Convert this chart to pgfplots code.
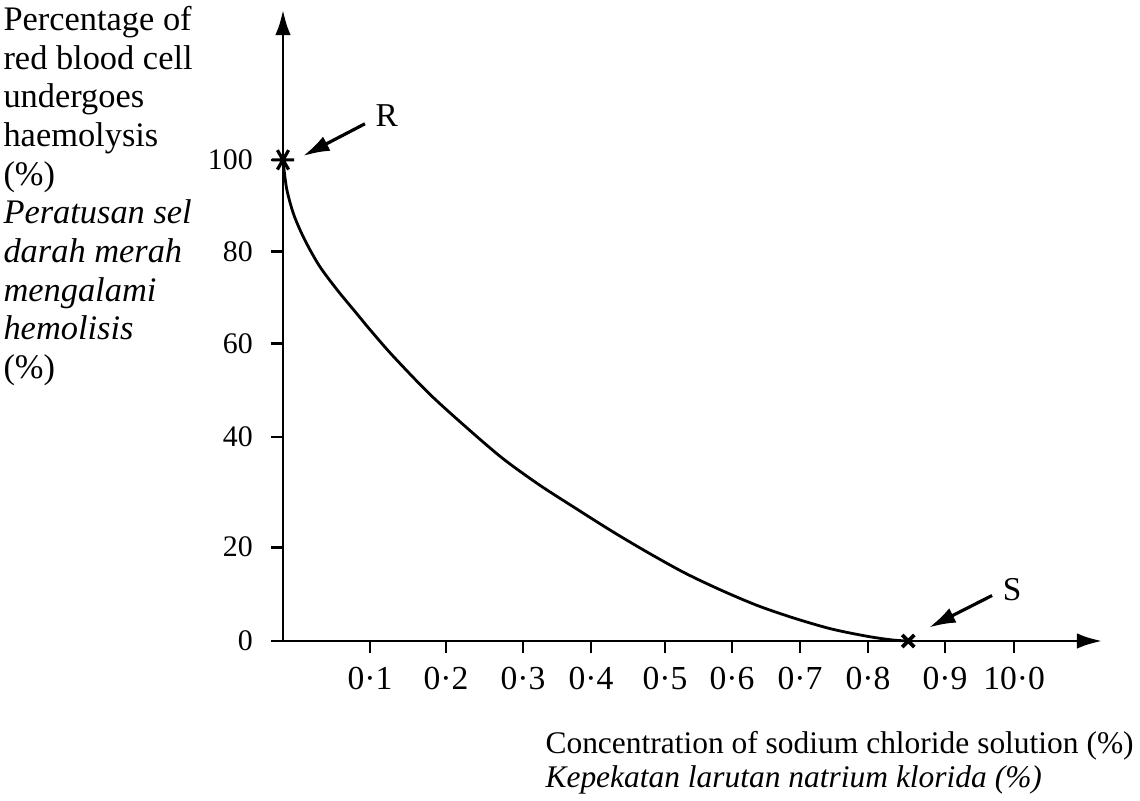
\documentclass[border=0pt]{standalone}
\usepackage{fontspec}
\setmainfont{Liberation Serif}
\usepackage{pgfplots}
\pgfplotsset{compat=1.18}
\usetikzlibrary{arrows.meta}
\begin{document}
\begin{tikzpicture}
\useasboundingbox (-106.125pt,-60pt) rectangle (321.375pt,240.375pt);
\begin{axis}[
  at={(0pt,0pt)}, anchor=south west,
  scale only axis, width=307.125pt, height=236.625pt,
  xmin=0, xmax=1.12, ymin=0, ymax=131.15,
  axis lines=left,
  axis line style={line width=1.1pt, -{Latex[length=9.4pt,width=5.8pt]}},
  xtick={0.119,0.2229,0.3282,0.4212,0.5224,0.614,0.707,0.800,0.9053,0.9997},
  xticklabels={0·1,0·2,0·3,0·4,0·5,0·6,0·7,0·8,0·9,10·0},
  ytick={0,19.5,42.4,61.8,80.9,100},
  yticklabels={0,20,40,60,80,100},
  tick align=outside, major tick length=4.5pt,
  tick style={line width=1pt, black},
  /pgf/number format/assume math mode=true,
  xticklabel style={font=\fontsize{12.6}{14}\selectfont, yshift=-1.8pt},
  yticklabel style={font=\fontsize{11.2}{13}\selectfont, xshift=-3.3pt},
  clip=false,
]
\addplot[line width=1.05pt, black, smooth, tension=0.5] coordinates {
 (0,100) (0.005,94.0) (0.015,88.5) (0.03,83.3) (0.05,77.9) (0.075,72.8)
 (0.1,68.2) (0.119,64.7) (0.15,59.3) (0.2,51.4) (0.25,44.5) (0.3,38.0)
 (0.35,32.5) (0.4,27.6) (0.45,22.8) (0.5,18.3) (0.55,14.1) (0.6,10.5)
 (0.65,7.3) (0.7,4.7) (0.75,2.5) (0.8,0.95) (0.834,0.2) (0.855,0)
};
\addplot[only marks, mark=asterisk, mark size=4.2pt, line width=1.2pt, mark options={rotate=90}] coordinates {(0,100)};
\addplot[only marks, mark=x, mark size=3.2pt, line width=1.4pt] coordinates {(0.855,0)};
\draw[line width=1.2pt, -{Latex[length=10pt,width=6pt]}] (axis cs:0.1121,107.5) -- (axis cs:0.0274,100.8);
\draw[line width=1.2pt, -{Latex[length=10pt,width=6pt]}] (axis cs:0.9696,9.45) -- (axis cs:0.8834,2.8);
\node[font=\fontsize{12.5}{14}\selectfont, inner sep=0] at (axis cs:0.142,109.1) {R};
\node[font=\fontsize{12.5}{14}\selectfont, inner sep=0] at (axis cs:0.997,10.7) {S};
\end{axis}
\begin{scope}[every node/.style={anchor=base west, inner sep=0, font=\fontsize{12.9}{14}\selectfont}]
\node at (-105pt,228.9pt) {Percentage of};
\node at (-105pt,214.4pt) {red blood cell};
\node at (-105pt,199.9pt) {undergoes};
\node at (-105pt,185.4pt) {haemolysis};
\node at (-105pt,170.9pt) {(\%)};
\node at (-105pt,156.4pt) {\itshape Peratusan sel};
\node at (-105pt,141.9pt) {\itshape darah merah};
\node at (-105pt,127.4pt) {\itshape mengalami};
\node at (-105pt,112.9pt) {\itshape hemolisis};
\node at (-105pt,98.4pt) {(\%)};
\end{scope}
\begin{scope}[every node/.style={anchor=base west, inner sep=0, font=\fontsize{11.8}{14}\selectfont}]
\node at (98.25pt,-42.2pt) {Concentration of sodium chloride solution (\%)};
\node at (98.25pt,-54.9pt) {\itshape Kepekatan larutan natrium klorida (\%)};
\end{scope}
\end{tikzpicture}
\end{document}
